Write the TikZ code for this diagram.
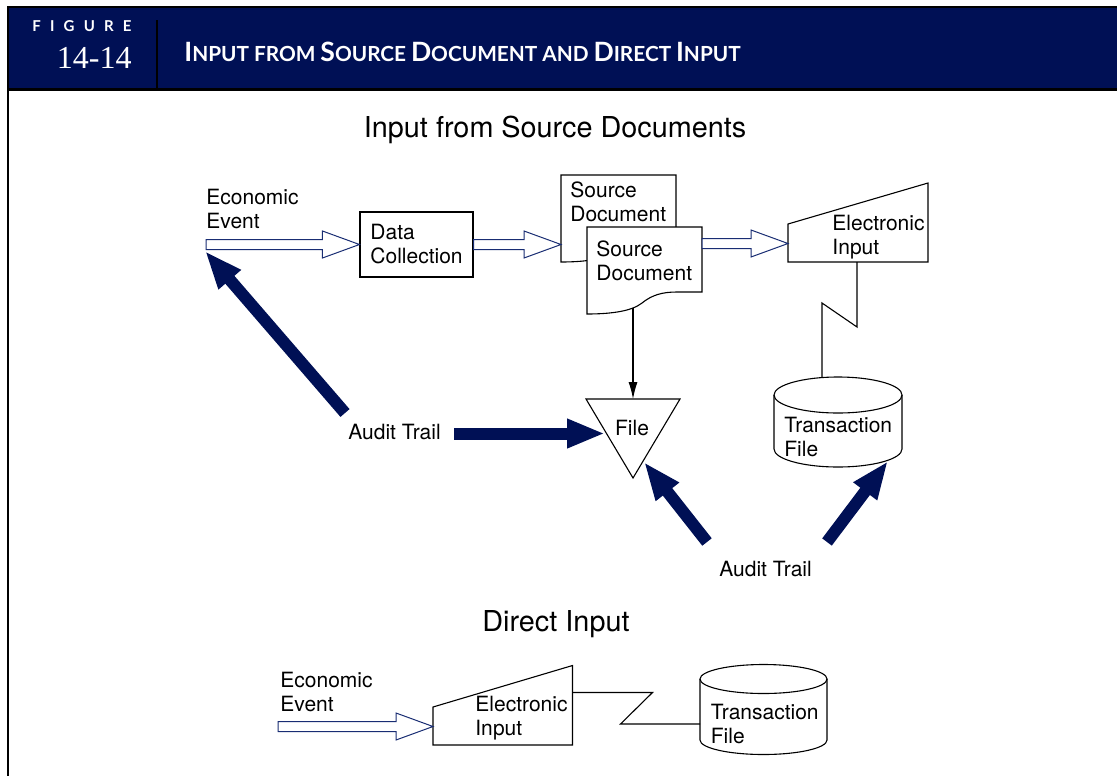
\documentclass[tikz,border=0pt]{standalone}
\usepackage{fontspec}
\setmainfont{TeX Gyre Heros}
\newfontfamily\hdfont{Lato}
\newfontfamily\numfont{Liberation Serif}
\usetikzlibrary{arrows.meta,calc}
\definecolor{navy}{RGB}{0,16,85}
\definecolor{outline}{RGB}{25,45,115}
\newcommand\hdsc[2]{{\fontsize{13.3}{14}\selectfont#1}{\fontsize{10.4}{14}\selectfont#2}}
\newcommand\hollowarrow[2]{\draw[hollow] ($(#1)+(0,-5)$) -- ($(#2)+(-37,-5)$)
  -- ($(#2)+(-37,-13.5)$) -- (#2) -- ($(#2)+(-37,13.5)$) -- ($(#2)+(-37,5)$)
  -- ($(#1)+(0,5)$) -- cycle;}
\tikzset{
  box/.style={draw, line width=0.55pt},
  lbl/.style={inner sep=0pt, align=left, anchor=west, font=\fontsize{10.5}{12}\selectfont},
  ttl/.style={inner sep=0pt, font=\fontsize{14.4}{17}\selectfont},
  hollow/.style={draw=outline, line width=0.5pt, fill=white},
  audit/.style={navy, line width=6pt, -{Triangle[length=19pt,width=13.5pt]}},
}
\begin{document}
\begin{tikzpicture}[x=0.5pt,y=-0.5pt]
  \useasboundingbox (0,0) rectangle (1117,776);
  % header
  \fill[navy] (7,7) rectangle (1117,88);
  \draw[line width=1pt] (7,6.5) -- (1117,6.5); \draw[line width=1.5pt] (7,89) -- (1117,89);
  \draw[line width=1pt] (7.5,6) -- (7.5,776); \draw[line width=1pt] (157,20) -- (157,88);
  \node[white, anchor=east, inner sep=0pt, font=\hdfont\bfseries\fontsize{7.5}{8}\selectfont] (fig) at (132,26)
    {F\hskip4.6pt I\hskip4.6pt G\hskip4.6pt U\hskip4.6pt R\hskip4.6pt E};
  \node[white, anchor=east, inner sep=0pt, font=\numfont\fontsize{16}{16}\selectfont] (num) at (132,58) {14-14};
  \node[white, anchor=west, inner sep=0pt, font=\hdfont\bfseries] (head) at (184,52)
    {\hdsc{I}{NPUT FROM} \hdsc{S}{OURCE} \hdsc{D}{OCUMENT AND} \hdsc{D}{IRECT} \hdsc{I}{NPUT}};
  % input from source documents
  \node[ttl] (ttl1) at (555,130) {Input from Source Documents};
  \coordinate (ev1) at (206,244.5); \coordinate (sd1w) at (561,244.5);
  \coordinate (sd2e) at (702,243.5); \coordinate (ei1w) at (788,243.5);
  \coordinate (ei1b) at (857,262); \coordinate (tf1t) at (822,377);
  \coordinate (dbot) at (633,308); \coordinate (ftop) at (633,399);
  \node[box, minimum width=56.5pt, minimum height=32.5pt, align=left,
    font=\fontsize{10.5}{12}\selectfont] (dc) at (416.5,244.5) {Data\\Collection};
  \foreach \s in {0,1} {
    \draw[box, fill=white, shift={(26*\s,52*\s)}] (561,175) -- (676,175) -- (676,240)
      -- (651,240) .. controls (636,240) and (626,243) .. (616,251)
      .. controls (606,259) and (586,262) .. (561,262) -- cycle; }
  \draw[box] (788,262) -- (788,224) -- (928,183) -- (928,262) -- cycle;
  \draw[box] (586,399) -- (680,399) -- (633,478) -- cycle;
  \foreach \x/\y/\w/\h/\r in {774/395/128/54/18, 700/679/127/61/14.5} {
    \draw[box, fill=white] (\x,\y) -- ++(0,\h) arc[start angle=180, end angle=0,
      x radius=\w/2, y radius=\r] -- ++(0,-\h);
    \draw[box] (\x+\w/2,\y) ellipse[x radius=\w/2, y radius=\r]; }
  \node[lbl] (ee1) at (206,209) {Economic\\Event};
  \node[lbl] (sd1) at (570,202) {Source\\Document};
  \node[lbl] (sd2) at (596,261) {Source\\Document};
  \node[lbl] (ei1) at (832,237) {Electronic\\Input};
  \node[lbl] (tf1) at (784,437) {Transaction\\File};
  \node[lbl, anchor=center] (file) at (632,428) {File};
  \node[lbl] (at1) at (348,432) {Audit Trail};
  \node[lbl] (at2) at (719,569) {Audit Trail};
  \hollowarrow{ev1}{dc.west} \hollowarrow{dc.east}{sd1w} \hollowarrow{sd2e}{ei1w}
  \draw[box, -{Latex[length=8.5pt,width=4.5pt]}] (dbot) -- (ftop);
  \draw[box] (ei1b) -- ++(0,65) -- ++(-35,-24) -- (tf1t);
  \draw[audit] (345,413) -- (205,251);
  \draw[audit] (at1.east)++(13,1.5) -- (605,433.5);
  \draw[audit] (707,542) -- (644,462);
  \draw[audit] (827,542) -- (888,461);
  % direct input
  \node[ttl] (ttl2) at (556,624) {Direct Input};
  \coordinate (ev2) at (278,726.5); \coordinate (ei2w) at (433,726.5);
  \coordinate (ei2e) at (572.5,692.5); \coordinate (tf2w) at (700,724);
  \draw[box] (433,745) -- (433,707) -- (572.5,665.5) -- (572.5,745) -- cycle;
  \node[lbl] (ee2) at (280,692) {Economic\\Event};
  \node[lbl] (ei2) at (475,718.5) {Electronic\\Input};
  \node[lbl] (tf2) at (710.5,723.5) {Transaction\\File};
  \hollowarrow{ev2}{ei2w}
  \draw[box] (ei2e) -- ++(80,0) -- ++(-32,31.5) -- (tf2w);
\end{tikzpicture}
\end{document}
